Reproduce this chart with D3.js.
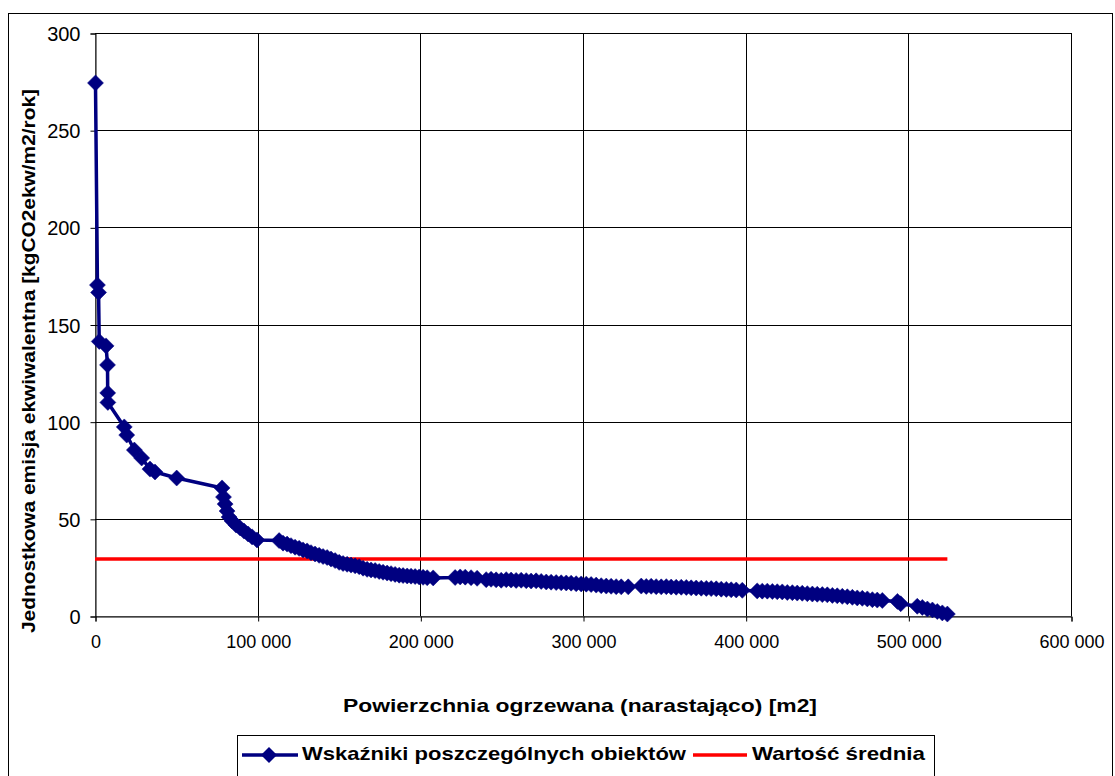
<!DOCTYPE html>
<html>
<head>
<meta charset="utf-8">
<script src="https://cdn.jsdelivr.net/npm/d3@7"></script>
<style>
  html, body { margin: 0; padding: 0; background: #fff; }
  svg { display: block; font-family: "Liberation Sans", Arial, sans-serif; }
</style>
</head>
<body>
<svg id="chart" width="1115" height="776"></svg>
<script>
// Cumulative heated area [m2] for each building, sorted by unit emission
const cumulativeArea = [
  300, 1500, 2200, 2600, 6800, 7700, 7800, 7900, 18000, 19500,
  24200, 28700, 33800, 36900, 50200, 78100, 79000, 80000, 81200, 82400,
  84300, 86700, 89200, 91600, 94100, 96600, 99600, 113200,
  115600, 118100, 120500, 123000, 125500, 127900, 130400, 132800, 135300, 137800,
  140200, 142700, 145100, 147600, 150100, 152500, 155000, 157400, 159900, 162400,
  164800, 167300, 169700, 172200, 174700, 177100, 179600, 182000, 184500, 187000,
  189400, 191900, 194300, 196800, 199300, 201700, 204200, 207900,
  221400, 224500, 227600, 231200, 234900,
  240500, 243500, 246600, 249700, 252800, 255800, 258900, 262000, 265100, 268100,
  271200, 274300, 277400, 280400, 283500, 286600, 289700, 292700, 295800, 298900,
  302000, 305000, 308100, 311200, 314300, 317300, 320400, 323500, 327800,
  335800, 338900, 341900, 345000, 348100, 351200, 354200, 357300, 360400, 363500,
  366500, 369600, 372700, 375800, 378800, 381900, 385000, 388100, 391100, 394200, 397900,
  407100, 410200, 413300, 416400, 419400, 422500, 425600, 428700, 431700, 434800,
  437900, 441000, 444000, 447100, 450200, 453300, 456300, 459400, 462500, 465600,
  468600, 471700, 474800, 477900, 480900, 484000,
  493300, 495300,
  505500, 508600, 511700, 514800, 517800, 520900, 524000
];

// Unit equivalent emission [kgCO2ekw/m2/rok] of each building
const unitEmission = [
  274.3, 170.3, 166.5, 141.3, 139.0, 129.2, 114.8, 109.9, 97.3, 93.1,
  85.4, 81.3, 75.6, 74.1, 71.0, 65.9, 61.2, 57.6, 54.0, 50.9,
  48.9, 46.8, 45.3, 43.7, 42.2, 40.7, 39.1, 38.8,
  37.5, 37.0, 36.2, 35.4, 34.8, 34.0, 33.5, 32.6, 31.9, 31.2,
  30.6, 30.1, 29.3, 28.5, 27.6, 27.0, 26.6, 26.2, 25.8, 25.4,
  24.6, 24.0, 23.7, 23.4, 22.9, 22.5, 22.1, 21.8, 21.4, 21.0,
  20.8, 20.6, 20.5, 20.3, 20.1, 19.9, 19.7, 19.6,
  19.8, 20.1, 20.0, 19.7, 19.4,
  18.7, 18.9, 18.6, 18.4, 18.7, 18.5, 18.3, 18.4, 18.2, 18.0,
  18.1, 17.8, 17.5, 17.4, 17.2, 17.1, 17.0, 16.9, 16.6, 16.5,
  16.4, 16.2, 15.9, 15.6, 15.4, 15.3, 15.1, 15.0, 15.0,
  15.4, 15.2, 15.3, 15.1, 15.0, 15.1, 14.9, 14.8, 14.8, 14.7,
  14.5, 14.4, 14.3, 14.2, 14.1, 14.0, 13.8, 13.7, 13.5, 13.4, 13.2,
  12.9, 12.8, 12.8, 12.6, 12.5, 12.4, 12.1, 12.0, 11.8, 11.7,
  11.5, 11.3, 11.2, 11.0, 10.9, 10.6, 10.4, 10.1, 9.9, 9.6,
  9.3, 9.1, 8.8, 8.4, 8.2, 8.0,
  7.5, 6.3,
  5.0, 4.4, 3.6, 3.1, 2.3, 1.6, 1.0
];

// Mean value drawn as a horizontal reference line
const meanEmission = 29.3;

const xTicks = [0, 100000, 200000, 300000, 400000, 500000, 600000];
const yTicks = [0, 50, 100, 150, 200, 250, 300];

const seriesLabel = "Wskaźniki poszczególnych obiektów";
const meanLabel = "Wartość średnia";
const xTitle = "Powierzchnia ogrzewana (narastająco) [m2]";
const yTitle = "Jednostkowa emisja ekwiwalentna [kgCO2ekw/m2/rok]";

const points = cumulativeArea.map((a, i) => ({ area: a, value: unitEmission[i] }));
const meanLine = [
  { area: 0, value: meanEmission },
  { area: cumulativeArea[cumulativeArea.length - 1], value: meanEmission }
];

const svg = d3.select("#chart");
const plot = { left: 95, right: 1071, top: 33, bottom: 616 };

const x = d3.scaleLinear().domain([0, 600000]).range([plot.left, plot.right]);
const y = d3.scaleLinear().domain([0, 300]).range([plot.bottom, plot.top]);

const pl = d3.formatLocale({ decimal: ",", thousands: " ", grouping: [3], currency: ["", ""] });
const fmtX = pl.format(",d");

const NAVY = "#000080";
const RED = "#ff0000";

// outer chart frame
svg.append("rect")
  .attr("x", 8.5).attr("y", 13.5)
  .attr("width", 1104).attr("height", 800)
  .attr("fill", "#fff").attr("stroke", "#000").attr("stroke-width", 1);

// plot area outline
svg.append("rect")
  .attr("x", plot.left + 0.5).attr("y", plot.top + 0.5)
  .attr("width", plot.right - plot.left).attr("height", plot.bottom - plot.top)
  .attr("fill", "#fff").attr("stroke", "#808080").attr("stroke-width", 1);

// gridlines
const grid = svg.append("g").attr("stroke", "#000").attr("stroke-width", 1);
grid.selectAll("line.h").data(yTicks.filter(d => d > 0)).join("line")
  .attr("x1", plot.left).attr("x2", plot.right + 1)
  .attr("y1", d => Math.round(y(d)) + 0.5).attr("y2", d => Math.round(y(d)) + 0.5);
grid.selectAll("line.v").data(xTicks.filter(d => d > 0)).join("line")
  .attr("y1", plot.top).attr("y2", plot.bottom)
  .attr("x1", d => Math.round(x(d)) + 0.5).attr("x2", d => Math.round(x(d)) + 0.5);

// axes
const xAxis = d3.axisBottom(x).tickValues(xTicks).tickFormat(fmtX).tickSize(5).tickPadding(14);
const yAxis = d3.axisLeft(y).tickValues(yTicks).tickSize(5).tickPadding(10);

const gx = svg.append("g").attr("transform", `translate(0.5,${plot.bottom + 0.5})`).call(xAxis);
const gy = svg.append("g").attr("transform", `translate(${plot.left + 0.5},0.5)`).call(yAxis);
[gx, gy].forEach(g => {
  g.select(".domain").attr("stroke", "#000").attr("stroke-width", 1);
  g.selectAll(".tick line").attr("stroke", "#000");
  g.selectAll(".tick text").attr("fill", "#000")
    .style("font-family", "'Liberation Sans', Arial, sans-serif");
});
gx.selectAll(".tick text").style("font-size", "18px");
gy.selectAll(".tick text").style("font-size", "20px").attr("dy", "0.35em");

// mean line
const line = d3.line().x(d => x(d.area)).y(d => y(d.value));
svg.append("path").datum(meanLine)
  .attr("d", line).attr("fill", "none")
  .attr("stroke", RED).attr("stroke-width", 3.5);

// series line and markers
svg.append("path").datum(points)
  .attr("d", line).attr("fill", "none")
  .attr("stroke", NAVY).attr("stroke-width", 3.5).attr("stroke-linejoin", "round");

const diamond = r => `M0,${-r}L${r},0L0,${r}L${-r},0Z`;
svg.append("g").selectAll("path").data(points).join("path")
  .attr("transform", d => `translate(${x(d.area)},${y(d.value)})`)
  .attr("d", diamond(8))
  .attr("fill", NAVY).attr("stroke", NAVY).attr("stroke-width", 0.5);

// axis titles (bold, slightly wide lettering)
svg.append("text")
  .attr("x", 580).attr("y", 712)
  .attr("text-anchor", "middle")
  .attr("textLength", 474).attr("lengthAdjust", "spacingAndGlyphs")
  .style("font-size", "19px").style("font-weight", "bold")
  .text(xTitle);

svg.append("text")
  .attr("transform", "translate(35,361) rotate(-90)")
  .attr("text-anchor", "middle")
  .attr("textLength", 544).attr("lengthAdjust", "spacingAndGlyphs")
  .style("font-size", "18px").style("font-weight", "bold")
  .text(yTitle);

// legend
const lg = svg.append("g");
lg.append("rect")
  .attr("x", 237.5).attr("y", 735.5).attr("width", 697).attr("height", 42)
  .attr("fill", "#fff").attr("stroke", "#000").attr("stroke-width", 1);
lg.append("line").attr("x1", 242).attr("x2", 298).attr("y1", 755).attr("y2", 755)
  .attr("stroke", NAVY).attr("stroke-width", 3.5);
lg.append("path").attr("transform", "translate(269,755)").attr("d", diamond(8)).attr("fill", NAVY);
lg.append("text").attr("x", 302).attr("y", 760)
  .attr("textLength", 384).attr("lengthAdjust", "spacingAndGlyphs")
  .style("font-size", "19px").style("font-weight", "bold").text(seriesLabel);
lg.append("line").attr("x1", 693).attr("x2", 747).attr("y1", 755).attr("y2", 755)
  .attr("stroke", RED).attr("stroke-width", 3.5);
lg.append("text").attr("x", 752).attr("y", 760)
  .attr("textLength", 173).attr("lengthAdjust", "spacingAndGlyphs")
  .style("font-size", "19px").style("font-weight", "bold").text(meanLabel);
</script>
</body>
</html>
